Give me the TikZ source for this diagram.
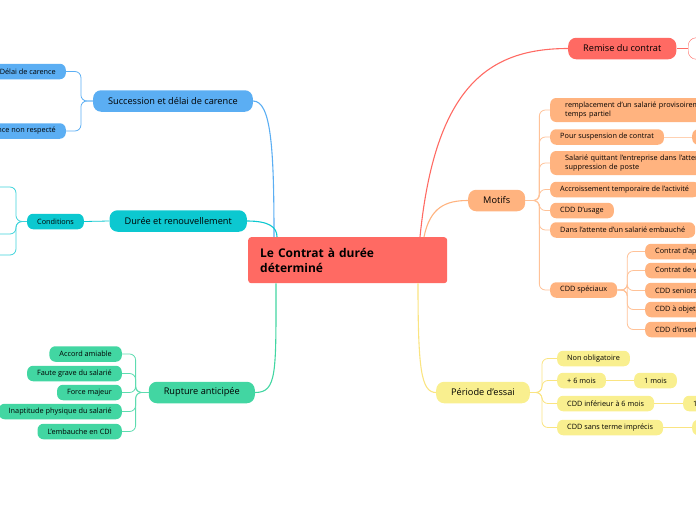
\documentclass[tikz,border=0pt]{standalone}
\usepackage{fontspec}
\setmainfont{Open Sans}
\usetikzlibrary{positioning,calc}
\definecolor{cred}{HTML}{FF6A63}
\definecolor{cblue}{HTML}{5BAEF3}
\definecolor{cteal}{HTML}{0CC8D0}
\definecolor{cgreen}{HTML}{42D6A2}
\definecolor{cpeach}{HTML}{FFB37F}
\definecolor{cyellow}{HTML}{F9EF8F}
\begin{document}
\begin{tikzpicture}[x=1pt, y=-1pt,
  root/.style={fill=cred, rounded corners=3pt, align=left, text width=175pt,
               inner xsep=12pt, minimum height=46pt,
               font=\fontsize{12}{15}\selectfont\bfseries},
  topic/.style={rounded corners=8pt, inner xsep=15pt, minimum height=21.5pt,
                font=\fontsize{9.2}{11}\selectfont},
  sub/.style={rounded corners=6pt, inner xsep=10pt, minimum height=15.5pt,
              font=\fontsize{7.3}{8.8}\selectfont},
  wide/.style={sub, align=left, text width=200pt, inner xsep=15pt, minimum height=24pt},
  link/.style={line width=1.1pt},
  twig/.style={line width=0.8pt, rounded corners=6pt}
]
\useasboundingbox (0,0) rectangle (696,520);
\clip (0,0) rectangle (696,520);

\node[root, anchor=north west] (ctr) at (248,237) {Le Contrat à durée\\déterminé};

\node[topic, fill=cblue, anchor=east] (succ) at (253,101) {Succession et délai de carence};
\node[topic, fill=cteal, anchor=east] (dur) at (247,221) {Durée et renouvellement};
\node[topic, fill=cgreen, anchor=east] (rupt) at (255,392.5) {Rupture anticipée};
\node[topic, fill=cred, anchor=west] (rem) at (568,48.5) {Remise du contrat};
\node[topic, fill=cpeach, anchor=west] (mot) at (468,200.5) {Motifs};
\node[topic, fill=cyellow, anchor=west] (essai) at (436,392.5) {Période d'essai};

\draw[link, cblue] (succ.east) .. controls +(18,0) and +(0,-90) .. ($(ctr.north west)+(26,0)$);
\draw[link, cteal] (dur.east) .. controls +(22,0) and +(0,-10) .. ($(ctr.north west)+(29,0)$);
\draw[link, cgreen] ($(ctr.south west)+(28,0)$) .. controls +(0,90) and +(22,0) .. (rupt.east);
\draw[link, cred] ($(ctr.north west)+(172,0)$) .. controls +(15,-150) and +(-80,0) .. (rem.west);
\draw[link, cpeach] ($(ctr.north west)+(176,0)$) .. controls +(6,-30) and +(-22,0) .. (mot.west);
\draw[link, cyellow!90!orange] ($(ctr.south west)+(170,0)$) .. controls +(0,85) and +(-15,0) .. (essai.west);

\node[topic, fill=white, draw=cred, anchor=west, minimum width=40pt] (remx) at (688,48.5) {};
\draw[twig, cred] (rem.east) -- (remx.west);

\node[sub, fill=cblue, anchor=east] (carence) at (66,71.5) {Délai de carence};
\node[sub, fill=cblue, anchor=east] (nonresp) at (66,131) {Délai de carence non respecté};
\foreach \n in {carence,nonresp}
  \draw[twig, cblue] (succ.west) -- ++(-12,0) |- (\n.east);

\node[sub, fill=cteal, anchor=east] (cond) at (84,221.5) {Conditions};
\draw[twig, cteal] (dur.west) -- (cond.east);
\coordinate (cond1) at (-6,187);
\coordinate (cond2) at (-6,234);
\coordinate (cond3) at (-6,255);
\foreach \n in {cond1,cond2,cond3}
  \draw[twig, cteal!80] (cond.west) -- ++(-11,0) |- (\n);

\foreach \n/\y/\t in {acc/354/Accord amiable, faute/373.5/Faute grave du salarié,
    force/392.5/Force majeur, inapt/411.5/Inaptitude physique du salarié,
    emb/431.5/L'embauche en CDI} {
  \node[sub, fill=cgreen, anchor=east] (\n) at (122,\y) {\t};
  \draw[twig, cgreen!85] (rupt.west) -- ++(-13,0) |- (\n.east);
}

\node[wide, fill=cpeach, anchor=west] (rempl) at (550,110) {remplacement d'un salarié provisoirement passé à\\temps partiel};
\node[sub, fill=cpeach, anchor=west] (pour) at (550,137) {Pour suspension de contrat};
\node[wide, fill=cpeach, anchor=west] (quitte) at (550,163) {Salarié quittant l'entreprise dans l'attente de la\\suppression de poste};
\node[sub, fill=cpeach, anchor=west] (accr) at (550,189.5) {Accroissement temporaire de l'activité};
\node[sub, fill=cpeach, anchor=west] (usage) at (550,210.5) {CDD D'usage};
\node[sub, fill=cpeach, anchor=west] (attente) at (550,230) {Dans l'attente d'un salarié embauché};
\node[sub, fill=cpeach, anchor=west] (spec) at (550,290) {CDD spéciaux};
\foreach \n in {rempl,pour,quitte,accr,usage,attente,spec}
  \draw[twig, cpeach!80] (mot.east) -- ++(14,0) |- (\n.west);

\node[sub, fill=cpeach, anchor=west, minimum width=40pt] (pourx) at (692,137) {};
\draw[twig, cpeach!60] (pour.east) -- (pourx.west);

\foreach \n/\y/\t in {appr/251.5/Contrat d'apprentissage, vend/270.5/Contrat de vendanges,
    senior/290.5/CDD seniors, objet/309.5/CDD à objet défini,
    insert/329.5/CDD d'insertion} {
  \node[sub, fill=cpeach, anchor=west] (\n) at (645,\y) {\t};
  \draw[twig, cpeach!80] (spec.east) -- ++(10,0) |- (\n.west);
}

\node[sub, fill=cyellow, anchor=west] (nonob) at (557,358.5) {Non obligatoire};
\node[sub, fill=cyellow, anchor=west] (six) at (557,380.5) {+ 6 mois};
\node[sub, fill=cyellow, anchor=west] (infer) at (557,403.5) {CDD inférieur à 6 mois};
\node[sub, fill=cyellow, anchor=west] (sans) at (557,427.5) {CDD sans terme imprécis};
\foreach \n in {nonob,six,infer,sans}
  \draw[twig, cyellow!90!orange] (essai.east) -- ++(12,0) |- (\n.west);

\node[sub, fill=cyellow, anchor=west] (unmois) at (634,380.5) {1 mois};
\node[sub, fill=cyellow, anchor=west] (inferx) at (683,403.5) {1};
\node[sub, fill=cyellow, anchor=west, minimum width=40pt] (sansx) at (692,427.5) {};
\draw[twig, cyellow!90!orange] (six.east) -- (unmois.west);
\draw[twig, cyellow!90!orange] (infer.east) -- (inferx.west);
\draw[twig, cyellow!90!orange] (sans.east) -- (sansx.west);
\end{tikzpicture}
\end{document}
